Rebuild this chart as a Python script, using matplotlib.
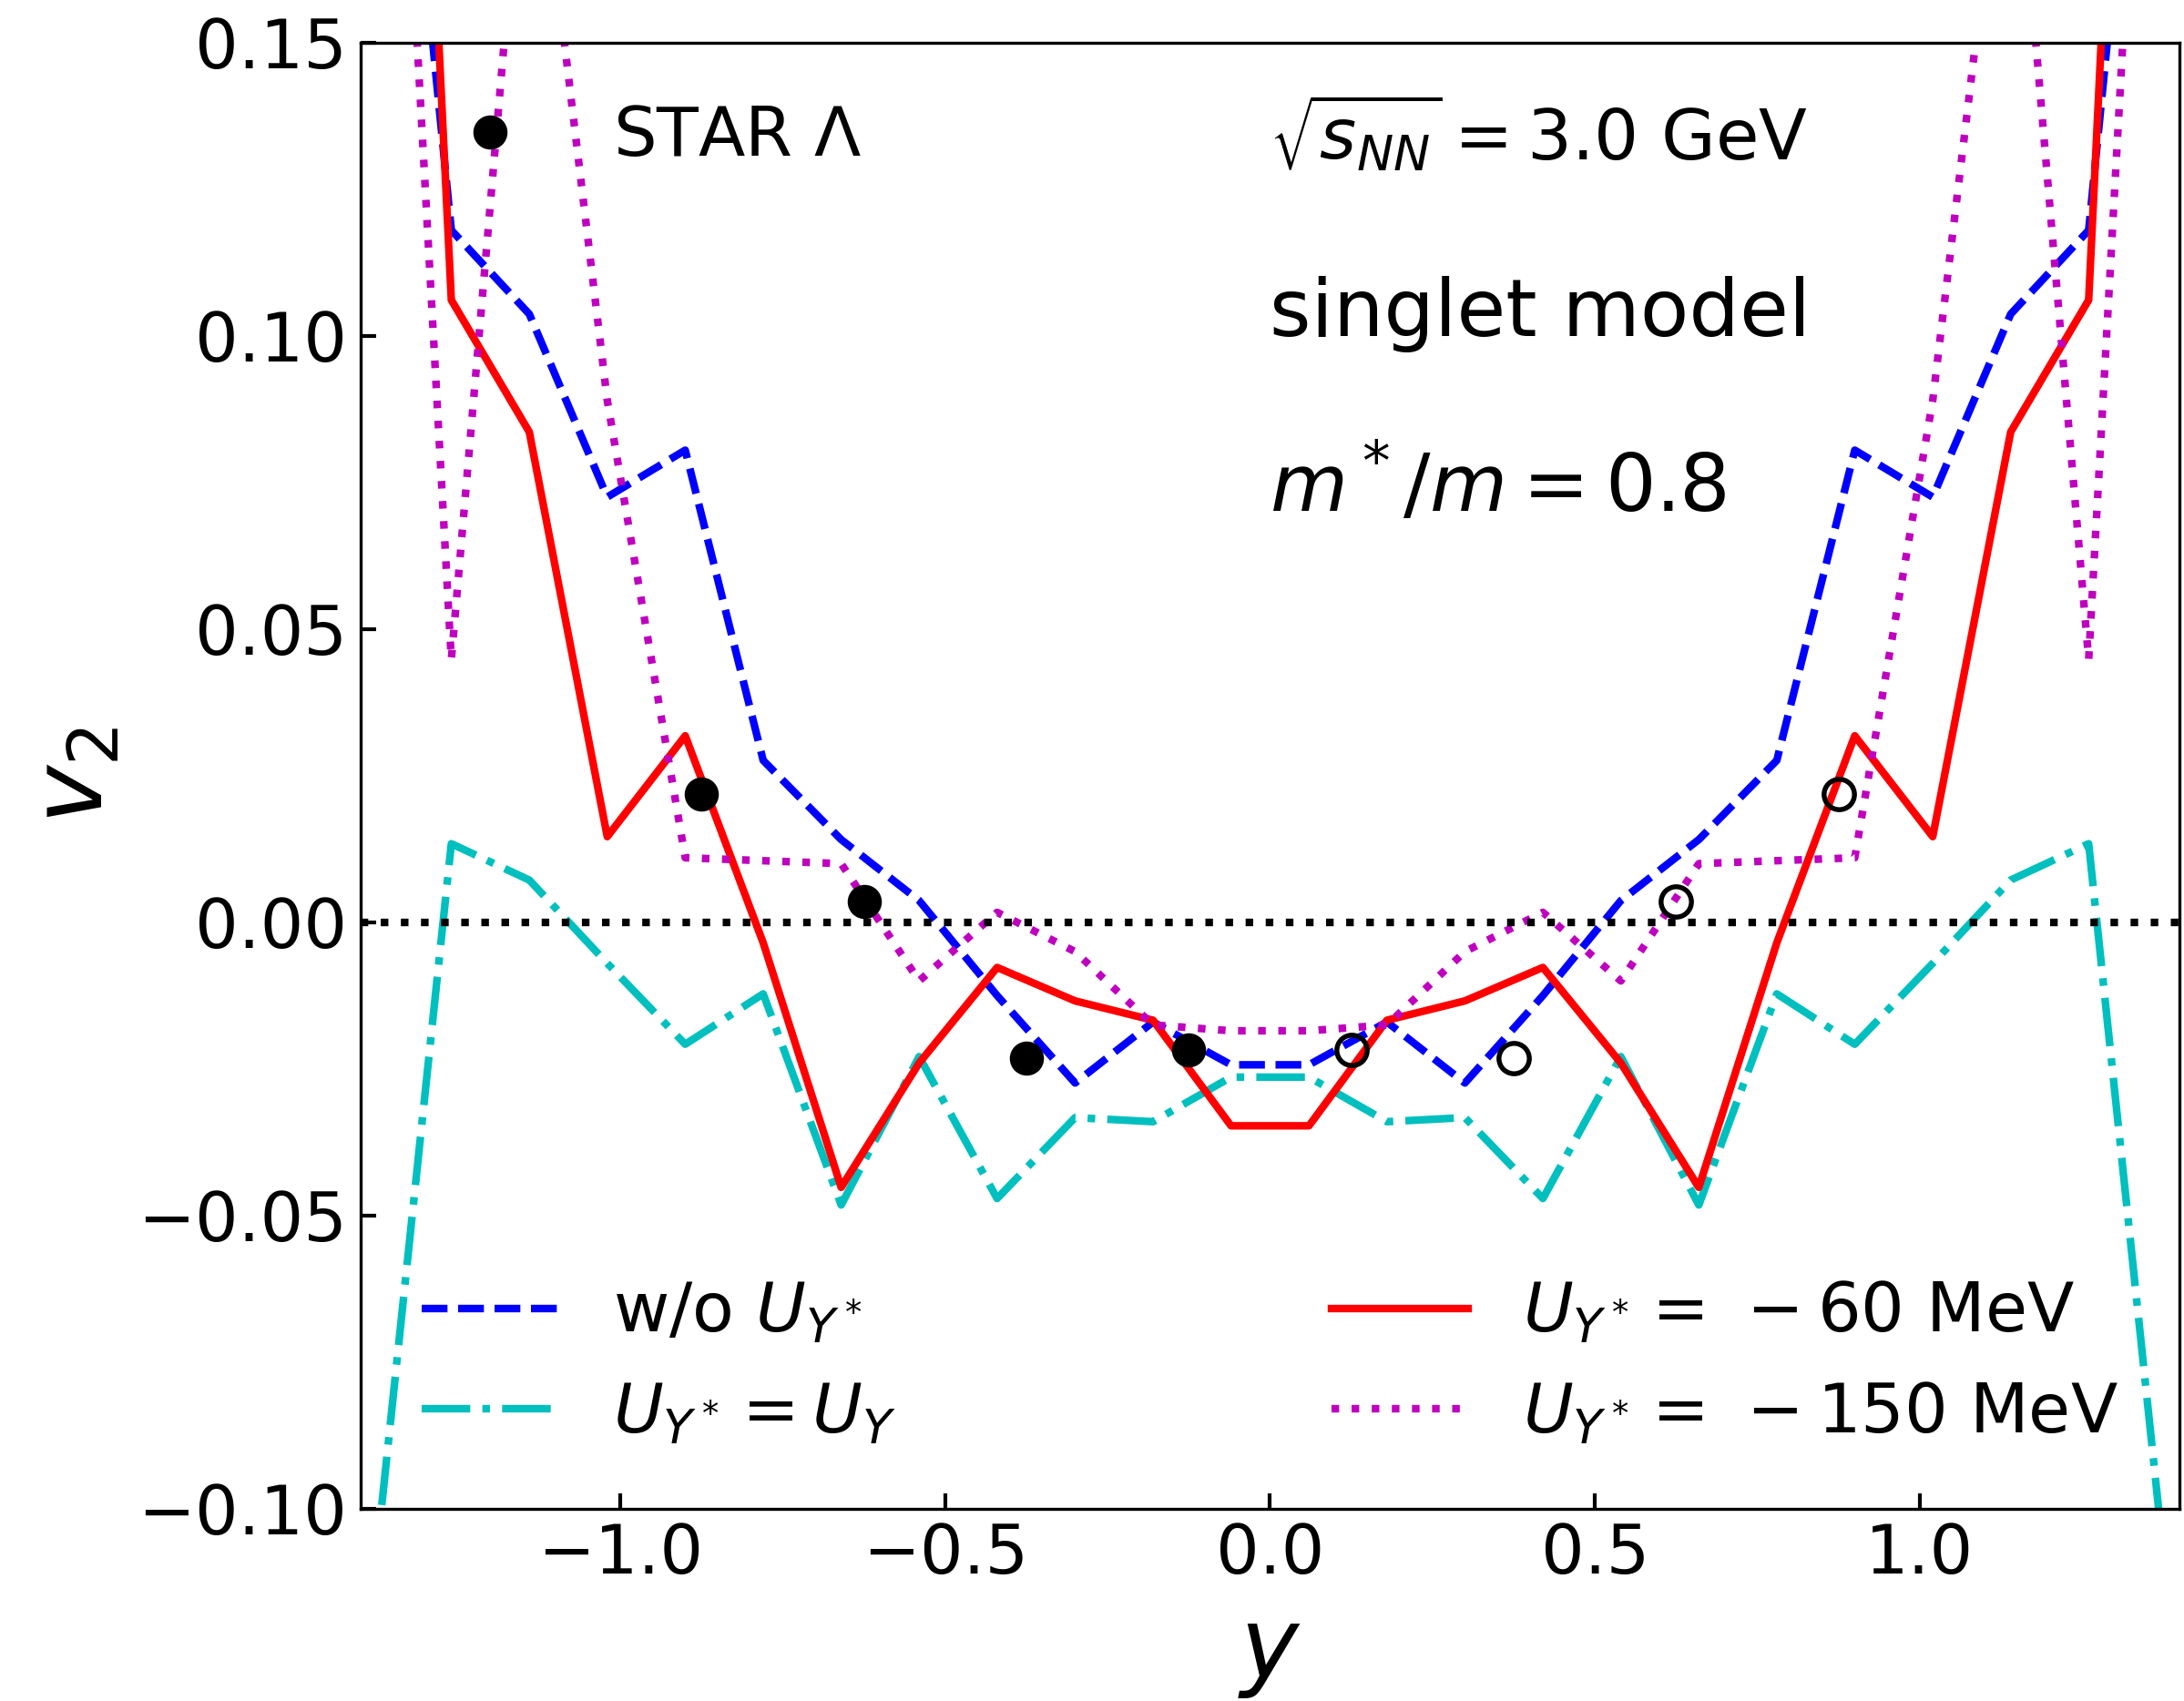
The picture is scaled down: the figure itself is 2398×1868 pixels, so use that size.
import numpy as np
import matplotlib
matplotlib.use("Agg")
import matplotlib.pyplot as plt

# rapidity bins of the transport calculation
y_bins = [-1.38, -1.26, -1.14, -1.02, -0.90, -0.78, -0.66, -0.54, -0.42, -0.30, -0.18, -0.06,
          0.06, 0.18, 0.30, 0.42, 0.54, 0.66, 0.78, 0.90, 1.02, 1.14, 1.26, 1.38]

# v2 without hyperon potential
v2_noU = [0.252, 0.118, 0.1037, 0.0725, 0.0805, 0.0276, 0.0141, 0.0037, -0.0125, -0.0274, -0.0170, -0.0243,
          -0.0243, -0.0170, -0.0274, -0.0125, 0.0037, 0.0141, 0.0276, 0.0805, 0.0725, 0.1037, 0.118, 0.252]
# U_Y* = U_Y
v2_UY = [-0.113, 0.0134, 0.0072, -0.0070, -0.0208, -0.0122, -0.0482, -0.0229, -0.0471, -0.0333, -0.0340, -0.0264,
         -0.0264, -0.0340, -0.0333, -0.0471, -0.0229, -0.0482, -0.0122, -0.0208, -0.0070, 0.0072, 0.0134, -0.113]
# U_Y* = -60 MeV
v2_m60 = [0.38, 0.1061, 0.0836, 0.0146, 0.0318, -0.0035, -0.0452, -0.0240, -0.0077, -0.0134, -0.0167, -0.0347,
          -0.0347, -0.0167, -0.0134, -0.0077, -0.0240, -0.0452, -0.0035, 0.0318, 0.0146, 0.0836, 0.1061, 0.38]
# U_Y* = -150 MeV
v2_m150 = [0.285, 0.0448, 0.200, 0.089, 0.0110, 0.0105, 0.0100, -0.0100, 0.0017, -0.0050, -0.0175, -0.0185,
           -0.0185, -0.0175, -0.0050, 0.0017, -0.0100, 0.0100, 0.0105, 0.0110, 0.089, 0.200, 0.0448, 0.285]

# STAR Lambda v2, measured (filled) and reflected (open)
star_y = [-0.875, -0.625, -0.375, -0.125]
star_v2 = [0.0219, 0.0036, -0.0231, -0.0217]
star_y_refl = [0.125, 0.375, 0.625, 0.875]
star_v2_refl = [-0.0217, -0.0231, 0.0036, 0.0219]

fig = plt.figure(figsize=(2398 / 300, 1868 / 300), dpi=300)
ax = fig.add_axes([0.165, 0.113, 0.833, 0.862])

lw = 2.0
l1, = ax.plot(y_bins, v2_noU, 'b--', lw=lw, dashes=(3.4, 1.4), label=r'w/o $U_{Y^*}$')
l2, = ax.plot(y_bins, v2_UY, '-.', lw=lw, color=(0, 0.75, 0.75), label=r'$U_{Y^*}=U_Y$')
l3, = ax.plot(y_bins, v2_m60, 'r-', lw=lw, label=r'$U_{Y^*}=\,-60$ MeV')
l4, = ax.plot(y_bins, v2_m150, ':', lw=lw, color=(0.75, 0, 0.75), label=r'$U_{Y^*}=\,-150$ MeV')

ax.axhline(0.0, color='k', ls=':', lw=2)

p1, = ax.plot(star_y, star_v2, 'ko', ms=8, ls='none', label=r'STAR $\Lambda$')
ax.plot(star_y_refl, star_v2_refl, 'o', ms=8, ls='none', mfc='none', mec='k', mew=1.3)

ax.text(0.0, 0.13, r'$\sqrt{s_{NN}}=3.0$ GeV', fontsize=18.5)
ax.text(0.0, 0.10, 'singlet model', fontsize=21)
ax.text(0.0, 0.07, r'$m^*/m=0.8$', fontsize=21)

ax.set_xlim(-1.4, 1.4)
ax.set_ylim(-0.10, 0.15)
ax.set_xticks([-1.0, -0.5, 0.0, 0.5, 1.0])
ax.set_yticks([-0.10, -0.05, 0.0, 0.05, 0.10, 0.15])
ax.tick_params(direction='in', length=4, width=1, labelsize=18)
ax.set_xlabel(r'$y$', fontsize=26)
ax.set_ylabel(r'$v_2$', fontsize=26)

leg1 = ax.legend(handles=[p1], loc='upper left', frameon=False, fontsize=18, numpoints=1)
ax.add_artist(leg1)
ax.legend(handles=[l1, l2, l3, l4], loc='lower left', ncol=2, mode='expand',
          bbox_to_anchor=(0, 0, 1, 1), frameon=False, fontsize=18)

fig.savefig('out.png', dpi=300)
